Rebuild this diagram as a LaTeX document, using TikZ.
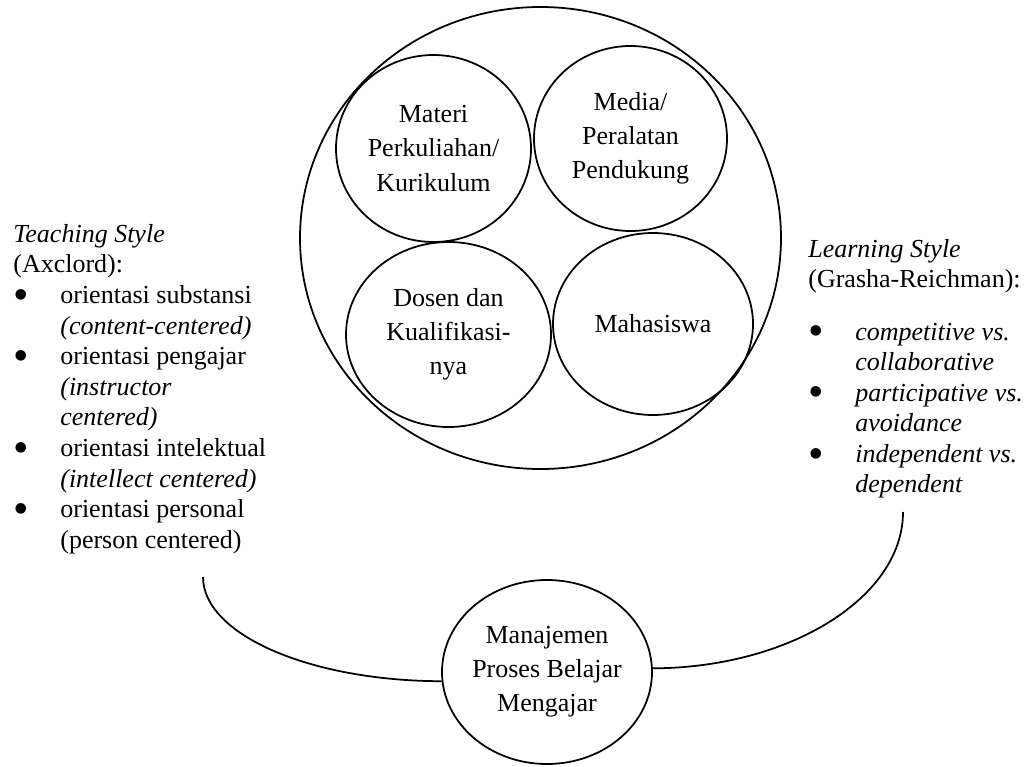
\documentclass[tikz,border=0pt]{standalone}
\usepackage{fontspec}
\setmainfont{Liberation Serif}
\usepackage{tikz}
\usetikzlibrary{shapes}
\newcommand{\bul}{\makebox[0.94cm][l]{\raisebox{-0.22em}{\scalebox{1.7}{\textbullet}}}}
\newcommand{\ind}{\hspace*{0.94cm}}

\begin{document}
\begin{tikzpicture}[
	every node/.style={font=\fontsize{14.8}{19.4}\selectfont},
	bulat/.style={draw,ellipse,line width=1pt,inner sep=-3pt,align=center},
	gaya/.style={anchor=north west,inner sep=0pt,align=left,font=\fontsize{14.8}{17.4}\selectfont},
	]
	\useasboundingbox (0,0) rectangle (20.58,15.32);
	\node[bulat,minimum width=9.62cm,minimum height=9.24cm] (pbm) at (10.81,10.56) {};
	\node[bulat,minimum width=3.90cm,minimum height=3.74cm] (materi) at (8.67,12.35) {Materi\\Perkuliahan/\\Kurikulum};
	\node[bulat,minimum width=3.86cm,minimum height=3.70cm] (media) at (12.61,12.55) {Media/\\Peralatan\\Pendukung};
	\node[bulat,minimum width=4.10cm,minimum height=3.70cm] (dosen) at (8.97,8.63) {Dosen dan\\Kualifikasi-\\nya};
	\node[bulat,minimum width=4.00cm,minimum height=3.64cm] (mhs) at (13.06,8.84) {Mahasiswa};
	\node[bulat,minimum width=4.20cm,minimum height=3.68cm] (mpbm) at (10.94,1.88) {Manajemen\\Proses Belajar\\Mengajar};
	\node[gaya] (teach) at (0.26,10.84) {\textit{Teaching Style}\\
		(Axclord):\\
		\bul orientasi substansi\\
		\ind\textit{(content-centered)}\\
		\bul orientasi pengajar\\
		\ind\textit{(instructor}\\
		\ind\textit{centered)}\\
		\bul orientasi intelektual\\
		\ind\textit{(intellect centered)}\\
		\bul orientasi personal\\
		\ind(person centered)};
	\node[gaya] (learn) at (16.16,10.54) {\textit{Learning Style}\\
		(Grasha-Reichman):\\[0.43cm]
		\bul\textit{competitive vs.}\\
		\ind\textit{collaborative}\\
		\bul\textit{participative vs.}\\
		\ind\textit{avoidance}\\
		\bul\textit{independent vs.}\\
		\ind\textit{dependent}};
	\coordinate (tsend) at (4.06,3.78);
	\coordinate (lsend) at (18.06,5.08);
	\draw[line width=1pt] (tsend) .. controls (4.06,2.63) and (6.20,1.70) .. (mpbm.185);
	\draw[line width=1pt] (lsend) .. controls (18.06,3.36) and (15.77,1.96) .. (mpbm.2);
\end{tikzpicture}
\end{document}
